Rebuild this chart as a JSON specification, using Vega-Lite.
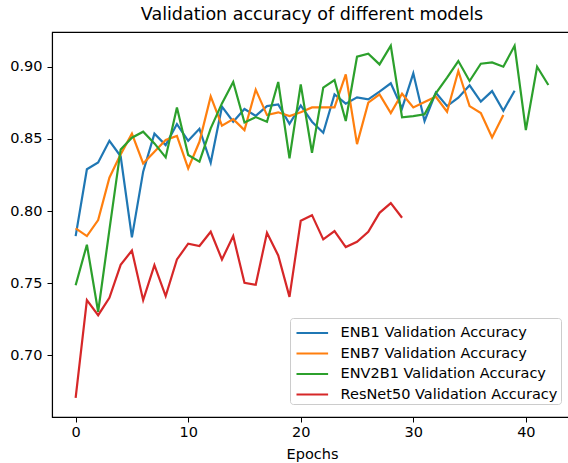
{
  "$schema": "https://vega.github.io/schema/vega-lite/v6.json",
  "autosize": "none",
  "width": 520,
  "height": 385,
  "padding": {"left": 52, "top": 32, "right": 0, "bottom": 46},
  "background": "white",
  "title": {"text": "Validation accuracy of different models", "fontSize": 17.5, "font": "DejaVu Sans", "fontWeight": "normal", "color": "#000000", "offset": 9, "anchor": "middle"},
  "config": {
    "view": {"stroke": "#000000", "strokeWidth": 1.1},
    "axis": {"grid": false, "labelFont": "DejaVu Sans", "titleFont": "DejaVu Sans", "labelFontSize": 14.5, "titleFontSize": 14.5, "titleFontWeight": "normal", "labelColor": "#000000", "titleColor": "#000000", "tickColor": "#000000", "domainColor": "#000000", "tickSize": 5, "tickWidth": 1, "domainWidth": 1.1}
  },
  "data": {"values": [
    {"model":"ENB1 Validation Accuracy","epoch":0,"acc":0.7827},
    {"model":"ENB1 Validation Accuracy","epoch":1,"acc":0.829},
    {"model":"ENB1 Validation Accuracy","epoch":2,"acc":0.8337},
    {"model":"ENB1 Validation Accuracy","epoch":3,"acc":0.8487},
    {"model":"ENB1 Validation Accuracy","epoch":4,"acc":0.838},
    {"model":"ENB1 Validation Accuracy","epoch":5,"acc":0.7818},
    {"model":"ENB1 Validation Accuracy","epoch":6,"acc":0.8273},
    {"model":"ENB1 Validation Accuracy","epoch":7,"acc":0.8536},
    {"model":"ENB1 Validation Accuracy","epoch":8,"acc":0.8457},
    {"model":"ENB1 Validation Accuracy","epoch":9,"acc":0.8603},
    {"model":"ENB1 Validation Accuracy","epoch":10,"acc":0.8487},
    {"model":"ENB1 Validation Accuracy","epoch":11,"acc":0.857},
    {"model":"ENB1 Validation Accuracy","epoch":12,"acc":0.8335},
    {"model":"ENB1 Validation Accuracy","epoch":13,"acc":0.8723},
    {"model":"ENB1 Validation Accuracy","epoch":14,"acc":0.8619},
    {"model":"ENB1 Validation Accuracy","epoch":15,"acc":0.8707},
    {"model":"ENB1 Validation Accuracy","epoch":16,"acc":0.866},
    {"model":"ENB1 Validation Accuracy","epoch":17,"acc":0.8727},
    {"model":"ENB1 Validation Accuracy","epoch":18,"acc":0.8739},
    {"model":"ENB1 Validation Accuracy","epoch":19,"acc":0.8605},
    {"model":"ENB1 Validation Accuracy","epoch":20,"acc":0.8732},
    {"model":"ENB1 Validation Accuracy","epoch":21,"acc":0.8619},
    {"model":"ENB1 Validation Accuracy","epoch":22,"acc":0.8543},
    {"model":"ENB1 Validation Accuracy","epoch":23,"acc":0.8808},
    {"model":"ENB1 Validation Accuracy","epoch":24,"acc":0.8744},
    {"model":"ENB1 Validation Accuracy","epoch":25,"acc":0.8788},
    {"model":"ENB1 Validation Accuracy","epoch":26,"acc":0.8774},
    {"model":"ENB1 Validation Accuracy","epoch":27,"acc":0.8827},
    {"model":"ENB1 Validation Accuracy","epoch":28,"acc":0.8885},
    {"model":"ENB1 Validation Accuracy","epoch":29,"acc":0.8711},
    {"model":"ENB1 Validation Accuracy","epoch":30,"acc":0.8954},
    {"model":"ENB1 Validation Accuracy","epoch":31,"acc":0.8624},
    {"model":"ENB1 Validation Accuracy","epoch":32,"acc":0.882},
    {"model":"ENB1 Validation Accuracy","epoch":33,"acc":0.8727},
    {"model":"ENB1 Validation Accuracy","epoch":34,"acc":0.8785},
    {"model":"ENB1 Validation Accuracy","epoch":35,"acc":0.8871},
    {"model":"ENB1 Validation Accuracy","epoch":36,"acc":0.8758},
    {"model":"ENB1 Validation Accuracy","epoch":37,"acc":0.8831},
    {"model":"ENB1 Validation Accuracy","epoch":38,"acc":0.8695},
    {"model":"ENB1 Validation Accuracy","epoch":39,"acc":0.8834},
    {"model":"ENB7 Validation Accuracy","epoch":0,"acc":0.788},
    {"model":"ENB7 Validation Accuracy","epoch":1,"acc":0.7827},
    {"model":"ENB7 Validation Accuracy","epoch":2,"acc":0.7938},
    {"model":"ENB7 Validation Accuracy","epoch":3,"acc":0.8231},
    {"model":"ENB7 Validation Accuracy","epoch":4,"acc":0.8393},
    {"model":"ENB7 Validation Accuracy","epoch":5,"acc":0.8536},
    {"model":"ENB7 Validation Accuracy","epoch":6,"acc":0.833},
    {"model":"ENB7 Validation Accuracy","epoch":7,"acc":0.8411},
    {"model":"ENB7 Validation Accuracy","epoch":8,"acc":0.8492},
    {"model":"ENB7 Validation Accuracy","epoch":9,"acc":0.852},
    {"model":"ENB7 Validation Accuracy","epoch":10,"acc":0.8296},
    {"model":"ENB7 Validation Accuracy","epoch":11,"acc":0.848},
    {"model":"ENB7 Validation Accuracy","epoch":12,"acc":0.8794},
    {"model":"ENB7 Validation Accuracy","epoch":13,"acc":0.8591},
    {"model":"ENB7 Validation Accuracy","epoch":14,"acc":0.8637},
    {"model":"ENB7 Validation Accuracy","epoch":15,"acc":0.8561},
    {"model":"ENB7 Validation Accuracy","epoch":16,"acc":0.8841},
    {"model":"ENB7 Validation Accuracy","epoch":17,"acc":0.8665},
    {"model":"ENB7 Validation Accuracy","epoch":18,"acc":0.8684},
    {"model":"ENB7 Validation Accuracy","epoch":19,"acc":0.8658},
    {"model":"ENB7 Validation Accuracy","epoch":20,"acc":0.8684},
    {"model":"ENB7 Validation Accuracy","epoch":21,"acc":0.8718},
    {"model":"ENB7 Validation Accuracy","epoch":22,"acc":0.8718},
    {"model":"ENB7 Validation Accuracy","epoch":23,"acc":0.8718},
    {"model":"ENB7 Validation Accuracy","epoch":24,"acc":0.8947},
    {"model":"ENB7 Validation Accuracy","epoch":25,"acc":0.8464},
    {"model":"ENB7 Validation Accuracy","epoch":26,"acc":0.8751},
    {"model":"ENB7 Validation Accuracy","epoch":27,"acc":0.8808},
    {"model":"ENB7 Validation Accuracy","epoch":28,"acc":0.8679},
    {"model":"ENB7 Validation Accuracy","epoch":29,"acc":0.8813},
    {"model":"ENB7 Validation Accuracy","epoch":30,"acc":0.8718},
    {"model":"ENB7 Validation Accuracy","epoch":31,"acc":0.8755},
    {"model":"ENB7 Validation Accuracy","epoch":32,"acc":0.8792},
    {"model":"ENB7 Validation Accuracy","epoch":33,"acc":0.8688},
    {"model":"ENB7 Validation Accuracy","epoch":34,"acc":0.897},
    {"model":"ENB7 Validation Accuracy","epoch":35,"acc":0.8727},
    {"model":"ENB7 Validation Accuracy","epoch":36,"acc":0.8679},
    {"model":"ENB7 Validation Accuracy","epoch":37,"acc":0.851},
    {"model":"ENB7 Validation Accuracy","epoch":38,"acc":0.8665},
    {"model":"ENV2B1 Validation Accuracy","epoch":0,"acc":0.7487},
    {"model":"ENV2B1 Validation Accuracy","epoch":1,"acc":0.7767},
    {"model":"ENV2B1 Validation Accuracy","epoch":2,"acc":0.7303},
    {"model":"ENV2B1 Validation Accuracy","epoch":3,"acc":0.787},
    {"model":"ENV2B1 Validation Accuracy","epoch":4,"acc":0.8427},
    {"model":"ENV2B1 Validation Accuracy","epoch":5,"acc":0.8508},
    {"model":"ENV2B1 Validation Accuracy","epoch":6,"acc":0.855},
    {"model":"ENV2B1 Validation Accuracy","epoch":7,"acc":0.8469},
    {"model":"ENV2B1 Validation Accuracy","epoch":8,"acc":0.8372},
    {"model":"ENV2B1 Validation Accuracy","epoch":9,"acc":0.8718},
    {"model":"ENV2B1 Validation Accuracy","epoch":10,"acc":0.8388},
    {"model":"ENV2B1 Validation Accuracy","epoch":11,"acc":0.8342},
    {"model":"ENV2B1 Validation Accuracy","epoch":12,"acc":0.8573},
    {"model":"ENV2B1 Validation Accuracy","epoch":13,"acc":0.8746},
    {"model":"ENV2B1 Validation Accuracy","epoch":14,"acc":0.8894},
    {"model":"ENV2B1 Validation Accuracy","epoch":15,"acc":0.8614},
    {"model":"ENV2B1 Validation Accuracy","epoch":16,"acc":0.8651},
    {"model":"ENV2B1 Validation Accuracy","epoch":17,"acc":0.8619},
    {"model":"ENV2B1 Validation Accuracy","epoch":18,"acc":0.8894},
    {"model":"ENV2B1 Validation Accuracy","epoch":19,"acc":0.8365},
    {"model":"ENV2B1 Validation Accuracy","epoch":20,"acc":0.8878},
    {"model":"ENV2B1 Validation Accuracy","epoch":21,"acc":0.8404},
    {"model":"ENV2B1 Validation Accuracy","epoch":22,"acc":0.8855},
    {"model":"ENV2B1 Validation Accuracy","epoch":23,"acc":0.8908},
    {"model":"ENV2B1 Validation Accuracy","epoch":24,"acc":0.8624},
    {"model":"ENV2B1 Validation Accuracy","epoch":25,"acc":0.9069},
    {"model":"ENV2B1 Validation Accuracy","epoch":26,"acc":0.909},
    {"model":"ENV2B1 Validation Accuracy","epoch":27,"acc":0.9016},
    {"model":"ENV2B1 Validation Accuracy","epoch":28,"acc":0.9145},
    {"model":"ENV2B1 Validation Accuracy","epoch":29,"acc":0.8649},
    {"model":"ENV2B1 Validation Accuracy","epoch":30,"acc":0.8658},
    {"model":"ENV2B1 Validation Accuracy","epoch":31,"acc":0.867},
    {"model":"ENV2B1 Validation Accuracy","epoch":32,"acc":0.8815},
    {"model":"ENV2B1 Validation Accuracy","epoch":33,"acc":0.8924},
    {"model":"ENV2B1 Validation Accuracy","epoch":34,"acc":0.9039},
    {"model":"ENV2B1 Validation Accuracy","epoch":35,"acc":0.8901},
    {"model":"ENV2B1 Validation Accuracy","epoch":36,"acc":0.9021},
    {"model":"ENV2B1 Validation Accuracy","epoch":37,"acc":0.903},
    {"model":"ENV2B1 Validation Accuracy","epoch":38,"acc":0.9},
    {"model":"ENV2B1 Validation Accuracy","epoch":39,"acc":0.9145},
    {"model":"ENV2B1 Validation Accuracy","epoch":40,"acc":0.8561},
    {"model":"ENV2B1 Validation Accuracy","epoch":41,"acc":0.9},
    {"model":"ENV2B1 Validation Accuracy","epoch":42,"acc":0.8873},
    {"model":"ResNet50 Validation Accuracy","epoch":0,"acc":0.6707},
    {"model":"ResNet50 Validation Accuracy","epoch":1,"acc":0.7383},
    {"model":"ResNet50 Validation Accuracy","epoch":2,"acc":0.7279},
    {"model":"ResNet50 Validation Accuracy","epoch":3,"acc":0.74},
    {"model":"ResNet50 Validation Accuracy","epoch":4,"acc":0.7628},
    {"model":"ResNet50 Validation Accuracy","epoch":5,"acc":0.7727},
    {"model":"ResNet50 Validation Accuracy","epoch":6,"acc":0.7383},
    {"model":"ResNet50 Validation Accuracy","epoch":7,"acc":0.7626},
    {"model":"ResNet50 Validation Accuracy","epoch":8,"acc":0.7411},
    {"model":"ResNet50 Validation Accuracy","epoch":9,"acc":0.7665},
    {"model":"ResNet50 Validation Accuracy","epoch":10,"acc":0.7774},
    {"model":"ResNet50 Validation Accuracy","epoch":11,"acc":0.7758},
    {"model":"ResNet50 Validation Accuracy","epoch":12,"acc":0.7857},
    {"model":"ResNet50 Validation Accuracy","epoch":13,"acc":0.7665},
    {"model":"ResNet50 Validation Accuracy","epoch":14,"acc":0.7827},
    {"model":"ResNet50 Validation Accuracy","epoch":15,"acc":0.7503},
    {"model":"ResNet50 Validation Accuracy","epoch":16,"acc":0.749},
    {"model":"ResNet50 Validation Accuracy","epoch":17,"acc":0.785},
    {"model":"ResNet50 Validation Accuracy","epoch":18,"acc":0.7693},
    {"model":"ResNet50 Validation Accuracy","epoch":19,"acc":0.7406},
    {"model":"ResNet50 Validation Accuracy","epoch":20,"acc":0.7933},
    {"model":"ResNet50 Validation Accuracy","epoch":21,"acc":0.7972},
    {"model":"ResNet50 Validation Accuracy","epoch":22,"acc":0.7804},
    {"model":"ResNet50 Validation Accuracy","epoch":23,"acc":0.7861},
    {"model":"ResNet50 Validation Accuracy","epoch":24,"acc":0.7751},
    {"model":"ResNet50 Validation Accuracy","epoch":25,"acc":0.7788},
    {"model":"ResNet50 Validation Accuracy","epoch":26,"acc":0.7857},
    {"model":"ResNet50 Validation Accuracy","epoch":27,"acc":0.7988},
    {"model":"ResNet50 Validation Accuracy","epoch":28,"acc":0.8055},
    {"model":"ResNet50 Validation Accuracy","epoch":29,"acc":0.7954}
  ]},
  "mark": {"type": "line", "strokeWidth": 2.2, "clip": true},
  "encoding": {
    "x": {"field": "epoch", "type": "quantitative", "scale": {"domain": [-2.1, 44.1], "nice": false, "zero": false},
      "axis": {"title": "Epochs", "values": [0, 10, 20, 30, 40], "labelPadding": 3, "titlePadding": 9}},
    "y": {"field": "acc", "type": "quantitative", "scale": {"domain": [0.65741, 0.92403], "nice": false, "zero": false},
      "axis": {"title": null, "values": [0.70, 0.75, 0.80, 0.85, 0.90], "format": ".2f", "labelPadding": 5}},
    "color": {"field": "model", "type": "nominal",
      "scale": {"domain": ["ENB1 Validation Accuracy", "ENB7 Validation Accuracy", "ENV2B1 Validation Accuracy", "ResNet50 Validation Accuracy"], "range": ["#1f77b4", "#ff7f0e", "#2ca02c", "#d62728"]},
      "legend": {"title": null, "orient": "none", "legendX": 238, "legendY": 286, "symbolType": "M-0.81,0H2.2", "symbolSize": 441, "symbolStrokeWidth": 2.2, "labelFont": "DejaVu Sans", "labelFontSize": 14.5, "labelColor": "#000000", "labelOffset": 23.6, "labelLimit": 400, "padding": 3, "rowPadding": 1.5, "fillColor": "white", "strokeColor": "#cccccc", "cornerRadius": 3}}
  }
}
